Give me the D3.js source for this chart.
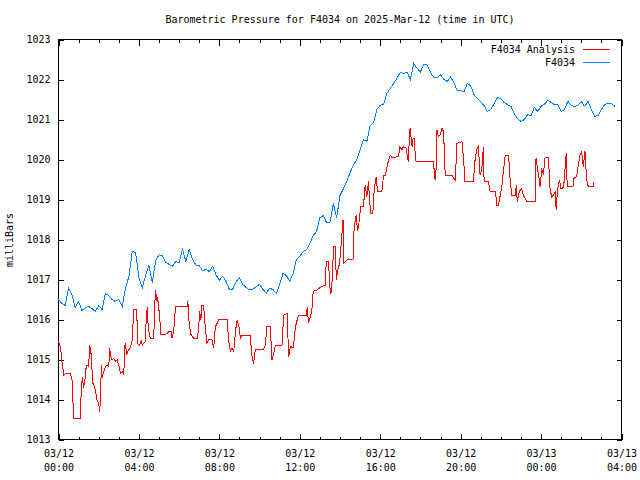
<!DOCTYPE html>
<html><head><meta charset="utf-8">
<script src="https://cdn.jsdelivr.net/npm/d3@7"></script>
<style>
body{margin:0;background:#fff;}
text{font-family:"DejaVu Sans Mono","Liberation Mono",monospace;font-size:10px;fill:#000;}
</style></head>
<body><svg id="c" width="640" height="480"></svg>
<script>
const titleText = "Barometric Pressure for F4034 on 2025-Mar-12 (time in UTC)";
const yLabelText = "milliBars";
const seriesNames = ["F4034 Analysis", "F4034"];
const yTicks = [1013,1014,1015,1016,1017,1018,1019,1020,1021,1022,1023];
const startUTC = Date.UTC(2025,2,12,0,0);
const endUTC = Date.UTC(2025,2,13,4,0);
// F4034 station: one value every 10 minutes from 03/12 00:00
const blueStepMin = 10;
const blueValues = [
1016.5,1016.4,1016.35,1016.78,1016.62,1016.3,1016.45,1016.22,1016.3,1016.33,
1016.27,1016.2,1016.35,1016.25,1016.65,1016.6,1016.5,1016.45,1016.5,1016.32,
1016.79,1017.07,1017.7,1017.68,1017.05,1016.8,1017.1,1017.35,1016.92,1017.48,
1017.62,1017.6,1017.43,1017.38,1017.33,1017.45,1017.42,1017.75,1017.45,1017.75,
1017.5,1017.36,1017.35,1017.22,1017.25,1017.2,1017.33,1017.12,1016.98,1017.08,
1016.95,1016.75,1016.76,1016.95,1017.05,1016.87,1016.8,1016.74,1016.76,1016.82,
1016.88,1016.75,1016.66,1016.78,1016.75,1016.65,1016.88,1017.15,1017.1,1016.95,
1017.15,1017.5,1017.58,1017.7,1017.74,1017.9,1018.1,1018.2,1018.55,1018.6,
1018.42,1018.42,1018.9,1018.55,1019.1,1019.27,1019.45,1019.67,1019.86,1020.0,
1020.25,1020.5,1020.45,1020.85,1020.92,1021.25,1021.36,1021.38,1021.65,1021.78,
1021.9,1022.03,1022.18,1022.15,1022.19,1022.0,1022.4,1022.28,1022.19,1022.38,
1022.36,1022.18,1022.05,1022.05,1022.12,1022.0,1021.95,1022.06,1021.92,1021.72,
1021.72,1021.7,1021.9,1021.84,1021.62,1021.52,1021.44,1021.35,1021.2,1021.25,
1021.4,1021.55,1021.52,1021.42,1021.37,1021.33,1021.15,1021.02,1020.95,1021.0,
1021.12,1021.1,1021.3,1021.2,1021.33,1021.38,1021.48,1021.43,1021.37,1021.38,
1021.2,1021.25,1021.45,1021.36,1021.32,1021.36,1021.45,1021.32,1021.45,1021.25,
1021.08,1021.1,1021.25,1021.38,1021.4,1021.4,1021.33];
// F4034 Analysis: minutes after 03/12 00:00 and values
const redMinutes = [0,6,11,16,21,36,41,44,46,66,67,71,75,80,83,90,93,97,100,103,110,115,120,123,125,128,130,135,140,145,150,153,155,160,165,170,175,180,185,190,195,197,200,203,207,215,220,223,225,233,235,236,242,247,250,259,262,265,266,269,274,284,289,292,294,296,299,302,304,324,329,336,339,344,349,384,386,389,394,399,403,414,418,421,425,428,433,438,443,448,458,463,468,473,478,503,508,513,518,523,528,533,538,543,548,572,577,582,587,592,612,617,622,632,637,642,647,667,672,682,687,692,701,707,716,739,742,746,751,756,760,771,781,796,799,806,809,813,816,821,826,829,833,836,841,846,849,851,861,876,880,882,888,892,895,898,902,910,915,920,925,928,932,938,942,948,952,965,970,975,985,990,995,1015,1018,1025,1029,1038,1041,1044,1047,1049,1055,1058,1061,1064,1067,1119,1122,1124,1127,1129,1134,1139,1144,1149,1154,1174,1179,1184,1189,1204,1209,1213,1238,1243,1248,1253,1258,1263,1266,1268,1270,1283,1288,1303,1306,1308,1313,1318,1323,1328,1333,1343,1348,1353,1363,1366,1369,1375,1382,1387,1397,1422,1425,1429,1432,1437,1442,1447,1452,1462,1467,1472,1477,1482,1485,1489,1495,1499,1505,1509,1512,1515,1518,1535,1538,1546,1551,1556,1561,1566,1571,1576,1581,1596,1598];
const redValues = [1015.45,1015.3,1014.9,1014.61,1014.65,1014.65,1014.45,1013.74,1013.53,1013.53,1014.03,1014.57,1014.3,1014.57,1014.86,1014.83,1015.36,1015.15,1014.74,1014.4,1014.24,1013.99,1013.9,1013.7,1013.99,1014.86,1014.53,1014.7,1014.82,1014.86,1014.82,1015.28,1015.11,1014.99,1015.03,1014.95,1014.99,1014.86,1014.65,1014.7,1014.61,1015.32,1015.4,1015.11,1015.2,1015.32,1015.49,1015.99,1016.24,1016.24,1015.82,1015.4,1015.36,1015.49,1015.36,1015.45,1016.06,1016.32,1016.0,1015.74,1015.53,1015.53,1016.74,1016.57,1016.45,1016.57,1016.24,1016.2,1015.62,1015.64,1015.7,1015.7,1015.53,1015.74,1016.32,1016.32,1016.45,1016.0,1015.65,1015.57,1015.53,1015.53,1015.74,1016.2,1016.0,1016.36,1016.36,1015.8,1015.4,1015.49,1015.49,1015.28,1015.82,1015.9,1015.99,1016.0,1015.45,1015.2,1015.28,1015.2,1015.7,1015.99,1015.86,1015.53,1015.61,1015.61,1015.1,1014.9,1015.24,1015.26,1015.26,1015.36,1015.82,1015.82,1014.99,1015.15,1015.36,1015.36,1016.11,1016.15,1015.07,1015.32,1015.3,1015.82,1016.11,1016.11,1016.3,1015.92,1016.05,1016.24,1016.7,1016.74,1016.8,1016.86,1017.45,1017.45,1016.86,1016.65,1016.9,1017.82,1017.82,1017.0,1017.24,1017.28,1017.61,1018.15,1018.49,1017.4,1017.49,1017.49,1017.53,1018.28,1018.61,1018.24,1018.28,1018.53,1018.82,1018.82,1019.36,1019.07,1019.45,1018.99,1018.65,1018.65,1019.24,1019.57,1019.2,1019.2,1019.61,1019.61,1019.99,1020.11,1020.05,1020.07,1020.32,1020.24,1020.32,1020.28,1020.07,1019.95,1020.53,1020.78,1020.32,1020.53,1020.53,1020.2,1019.95,1019.95,1019.61,1019.49,1019.78,1020.74,1020.57,1020.61,1020.78,1020.7,1019.61,1019.61,1019.53,1019.49,1020.4,1020.45,1019.99,1019.45,1019.45,1019.99,1020.24,1020.32,1019.61,1019.74,1020.11,1020.32,1019.45,1019.45,1019.2,1019.2,1019.03,1018.86,1018.86,1019.1,1019.32,1019.74,1020.11,1020.11,1019.45,1019.11,1019.11,1019.36,1018.95,1019.2,1019.28,1019.11,1018.95,1018.95,1020.03,1019.78,1019.65,1019.32,1019.74,1019.65,1020.05,1020.05,1019.24,1019.07,1019.11,1019.2,1018.74,1019.24,1019.49,1019.28,1019.28,1019.45,1019.82,1020.15,1019.32,1019.32,1019.53,1019.57,1019.86,1020.11,1020.2,1019.82,1020.2,1019.49,1019.32,1019.32,1019.45];
const seriesColors = ["#ff0000", "#0080ff"];

const svg = d3.select("#c");
const L = 58.5, R = 621.5, T = 39.5, B = 439.5;
const x = d3.scaleUtc().domain([new Date(startUTC), new Date(endUTC)]).range([L, R]);
const y = d3.scaleLinear().domain([1013, 1023]).range([B, T]);

const blueData = blueValues.map((v,i)=>({t:new Date(startUTC + i*blueStepMin*60000), v}));
const redData = redValues.map((v,i)=>({t:new Date(startUTC + redMinutes[i]*60000), v}));

const fmtD = d3.utcFormat("%m/%d"), fmtT = d3.utcFormat("%H:%M");
const majorX = d3.utcHour.every(4).range(new Date(startUTC), new Date(endUTC + 1));
const minorX = d3.utcHour.every(1).range(new Date(startUTC), new Date(endUTC + 1));

// minor ticks
svg.append("g").attr("transform",`translate(0,${B})`)
  .call(d3.axisBottom(x).tickValues(minorX).tickSize(-3).tickFormat(""));
svg.append("g").attr("transform",`translate(0,${T})`)
  .call(d3.axisTop(x).tickValues(minorX).tickSize(-3).tickFormat(""));
// major ticks
const xb = svg.append("g").attr("transform",`translate(0,${B})`)
  .call(d3.axisBottom(x).tickValues(majorX).tickSize(-6).tickPadding(10).tickFormat(""));
svg.append("g").attr("transform",`translate(0,${T})`)
  .call(d3.axisTop(x).tickValues(majorX).tickSize(-6).tickFormat(""));
xb.selectAll(".tick").each(function(d){
  const t = d3.select(this).append("text").attr("text-anchor","middle").attr("y",17);
  t.append("tspan").attr("x",0).text(fmtD(d));
  t.append("tspan").attr("x",0).attr("dy",14).text(fmtT(d));
});
const yl = svg.append("g").attr("transform",`translate(${L},0)`)
  .call(d3.axisLeft(y).tickValues(yTicks).tickSize(-5).tickPadding(8).tickFormat(d3.format("d")));
svg.append("g").attr("transform",`translate(${R},0)`)
  .call(d3.axisRight(y).tickValues(yTicks).tickSize(-5).tickFormat(""));
svg.selectAll(".domain").remove();
svg.selectAll(".tick line").attr("stroke","#000").attr("shape-rendering","crispEdges");
yl.selectAll(".tick text").attr("font-family",null).attr("font-size",null).attr("dy","0.3em");
svg.selectAll("g").attr("font-family",null).attr("font-size",null);

svg.append("rect").attr("x",L).attr("y",T).attr("width",R-L).attr("height",B-T)
  .attr("fill","none").attr("stroke","#000").attr("shape-rendering","crispEdges");

const line = d3.line().x(d=>x(d.t)).y(d=>y(d.v));
svg.append("path").datum(redData).attr("d",line).attr("fill","none")
  .attr("stroke",seriesColors[0]).attr("stroke-width",1).attr("shape-rendering","crispEdges");
svg.append("path").datum(blueData).attr("d",line).attr("fill","none")
  .attr("stroke",seriesColors[1]).attr("stroke-width",1).attr("shape-rendering","crispEdges");

svg.append("text").attr("x",340).attr("y",23).attr("text-anchor","middle").text(titleText);
svg.append("text").attr("transform","translate(13,240) rotate(-90)").attr("text-anchor","middle").text(yLabelText);

seriesNames.forEach((n,i)=>{
  const yy = 49.5 + i*13;
  svg.append("text").attr("x",575).attr("y",yy).attr("dy","0.35em").attr("text-anchor","end").text(n);
  svg.append("line").attr("x1",583).attr("x2",610).attr("y1",yy).attr("y2",yy)
    .attr("stroke",seriesColors[i]).attr("shape-rendering","crispEdges");
});
</script></body></html>
